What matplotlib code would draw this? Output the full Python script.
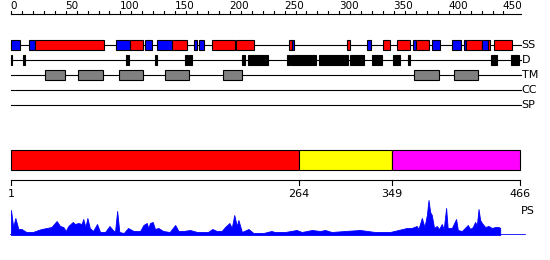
import matplotlib
matplotlib.use('Agg')
import matplotlib.pyplot as plt
from matplotlib.patches import Rectangle

SEQ_LEN = 466

# secondary structure: (start, end, kind)  H = helix, E = strand
ss_elements = [
    (0, 8, 'E'), (16, 22, 'E'), (22, 85, 'H'), (96, 109, 'E'), (109, 121, 'H'),
    (122, 129, 'E'), (133, 147, 'E'), (147, 161, 'H'), (167, 170, 'E'), (172, 176, 'E'),
    (184, 205, 'H'), (206, 222, 'H'), (254, 257, 'H'), (257, 259, 'E'), (307, 310, 'H'),
    (325, 329, 'E'), (340, 346, 'H'), (353, 365, 'H'), (367, 370, 'E'), (370, 382, 'H'),
    (385, 392, 'E'), (403, 411, 'E'), (414, 416, 'E'), (416, 430, 'H'), (430, 436, 'E'),
    (436, 437.5, 'H'), (441, 458, 'H'),
]

# disordered regions
dis_regions = [
    (0, 1), (11, 12.5), (105, 108), (131.5, 133), (159, 162), (163, 165), (211, 213.5),
    (216.5, 235), (252, 254.5), (255.5, 279), (281, 308), (310, 323), (330, 339),
    (349.5, 355.5), (363, 364.5), (439, 444), (457, 464.5),
]

# transmembrane segments
tm_regions = [(31, 49.5), (61.5, 84), (99, 121), (141, 163), (194, 211), (368, 391), (405, 427)]

track_names = ['SS', 'D', 'TM', 'CC', 'SP']

# domain boundaries (1-based)
dom_bounds = [1, 264, 349, 466]
dom_colors = ['#ff0000', '#ffff00', '#ff00ff']

# PS profile: residue, score
ps_pos = [0, 2, 4, 6.7, 9.7, 14, 20, 25, 28, 32.6, 37, 41.7, 44.8, 47.8, 50, 52.4, 56.4,
          58.5, 61.5, 64.6, 66, 68, 69.8, 72, 75, 78.6, 81.4, 86, 90, 93, 95, 97, 99, 103,
          107, 112, 118, 121, 124, 125.5, 127, 129.5, 131.6, 134.7, 139, 145, 150, 153,
          157.5, 163.6, 170, 176, 180, 184, 188, 192.5, 195.6, 199.6, 201.7, 204, 206.3,
          207.8, 211, 217, 221.5, 230.6, 238, 241, 250.5, 261, 265.7, 275, 282.5, 287, 293,
          305, 319, 332.7, 346.4, 354, 361.6, 366, 370.8, 372.3, 375.4, 377.8, 380, 381.5,
          383, 384.5, 386.6, 389, 391.2, 393.6, 395.4, 397.6, 399, 402.8, 406.7, 408.3, 412,
          417.4, 419.6, 422, 424, 425.7, 427.2, 428.7, 430.3, 433.3, 436.4, 439.4, 442.5,
          445.5, 447]
ps_height = [25, 8, 17, 6, 6, 3, 3, 5, 6, 7, 8, 14, 9, 8, 4, 9, 13,
             11, 12, 11, 16, 8, 17, 7, 4, 11, 3, 3, 9, 5, 3, 24, 3, 2,
             7, 4, 4, 10, 12, 7, 12, 13, 6, 7, 4, 3, 10, 4,
             4, 5, 3, 3, 3, 6, 4, 4, 8, 12, 7, 20, 9,
             15, 3, 6, 2, 2, 4, 3, 3, 5, 3, 5, 4, 5, 3,
             4, 5, 3, 3, 5, 7, 7, 9, 6, 17, 8, 20, 35,
             23, 20, 7, 9, 6, 11, 6, 27, 7, 7, 16, 5, 4,
             10, 6, 8, 13, 10, 26, 15, 12, 8, 9, 7, 8,
             8, 7]
ps_score = [h / 35.0 for h in ps_height]

W, H = 550, 260
S = 1.0944            # px per residue
X0 = 11               # px of residue 0
xlim = (-X0 / S, (W - X0) / S)

fig = plt.figure(figsize=(5.5, 2.6), dpi=100)
ax = fig.add_axes([0, 0, 1, 1])
ax.set_xlim(*xlim)
ax.set_ylim(H, 0)
ax.axis('off')

lw = 0.8
fs = 8

# top ruler
ax.plot([0, SEQ_LEN], [14, 14], color='k', lw=lw)
for t in range(0, 451, 10):
    ax.plot([t, t], [11, 14], color='k', lw=lw)
for t in range(0, 451, 50):
    ax.text(t - 0.5, 11, str(t), ha='left', va='bottom', fontsize=7.5)

# tracks
track_y = [45, 60, 75, 90, 105]
for name, y in zip(track_names, track_y):
    ax.plot([0, SEQ_LEN], [y, y], color='k', lw=lw, zorder=1)
    ax.text(SEQ_LEN + 0.5, y, name, ha='left', va='center', fontsize=fs)

ss_col = {'H': '#ff0000', 'E': '#0000ff'}
for s, e, k in ss_elements:
    ax.add_patch(Rectangle((s, 40), e - s, 10, fc=ss_col[k], ec='k', lw=lw, zorder=2))
for s, e in dis_regions:
    ax.add_patch(Rectangle((s, 55), e - s, 10, fc='k', ec='k', lw=lw, zorder=2))
for s, e in tm_regions:
    ax.add_patch(Rectangle((s, 70), e - s, 10, fc='#808080', ec='k', lw=lw, zorder=2))

# domain panel (1-based axis: 1 -> px 11, 466 -> px 520)
S2 = (520 - 11) / 465
ax2 = fig.add_axes([0, 0, 1, 1])
ax2.patch.set_alpha(0)
ax2.set_xlim(1 - 11 / S2, 1 + (W - 11) / S2)
ax2.set_ylim(H, 0)
ax2.axis('off')
for i, c in enumerate(dom_colors):
    a, b = dom_bounds[i], dom_bounds[i + 1]
    ax2.add_patch(Rectangle((a, 150), b - a, 20, fc=c, ec='k', lw=lw))
ax2.plot([dom_bounds[0], dom_bounds[-1]], [180, 180], color='k', lw=lw)
for b in dom_bounds:
    ax2.plot([b, b], [180, 185], color='k', lw=lw)
    ax2.text(b, 189, str(b), ha='center', va='top', fontsize=fs)
ax2.text(SEQ_LEN + 1, 210.5, 'PS', ha='left', va='center', fontsize=fs)

# PS profile
ax3 = fig.add_axes([0, (H - 235) / H, 1, 35 / H])
ax3.patch.set_alpha(0)
ax3.set_xlim(*xlim)
ax3.set_ylim(0, 1)
ax3.axis('off')
ax3.fill_between(ps_pos, 0, ps_score, color='#0000ff', lw=0.6)
ax3.plot([0, 470], [0, 0], color='#0000ff', lw=1.2)

fig.savefig('out.png', dpi=100)
